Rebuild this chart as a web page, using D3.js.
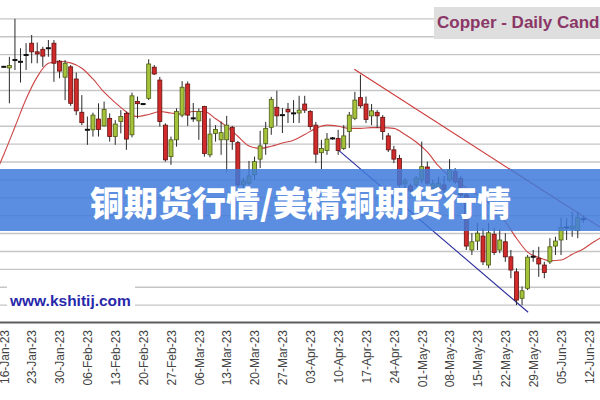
<!DOCTYPE html>
<html>
<head>
<meta charset="utf-8">
<script src="https://cdn.jsdelivr.net/npm/d3@7"></script>
<style>
  body { margin: 0; background: #fff; }
  svg { display: block; }
</style>
</head>
<body>
<svg id="chart" width="600" height="400"></svg>
<script>
// ---------------- data (one candle per weekday from 16-Jan-23) ----------------
var firstDay = new Date(2023, 0, 16);
var lastDay = new Date(2023, 5, 17);

var opens  = [4.216,4.213,4.235,4.230,4.249, 4.282,4.258,4.265,4.268,4.282, 4.232,4.187,4.216,4.182,4.089,
              4.040,4.040,4.070,4.051,4.072, 4.021,4.063,4.086,4.026,4.119, 4.112,4.128,4.215,4.179,4.053,
              3.965,4.012,4.081,4.168,4.072, 4.065,4.105,3.970,4.030,4.012, 4.012,4.047,4.004,3.886,3.891,
              3.914,3.958,4.002,4.047,4.103, 4.081,4.097,4.086,4.087,4.112, 4.091,4.053,3.976,3.982,4.016,
              4.016,3.988,4.035,4.072,4.130, 4.112,4.079,4.089,4.075,4.023, 3.984,3.960,3.889,3.883,3.886,
              3.900,3.936,3.877,3.875,3.886, 3.900,3.923,3.904,3.858,3.704, 3.729,3.743,3.662,3.748,3.704,
              3.727,3.685,3.643,3.569,3.597, 3.685,3.681,3.662,3.671,3.715, 3.732,3.767,3.763,3.758,3.790];
var highs  = [4.218,4.244,4.350,4.268,4.282, 4.305,4.284,4.272,4.291,4.291, 4.235,4.235,4.221,4.200,4.137,
              4.077,4.088,4.114,4.119,4.086, 4.067,4.095,4.091,4.144,4.133, 4.115,4.237,4.221,4.188,4.058,
              4.021,4.100,4.176,4.175,4.115, 4.100,4.107,4.072,4.053,4.063, 4.079,4.051,4.009,3.905,3.953,
              3.965,4.037,4.062,4.132,4.149, 4.101,4.115,4.123,4.135,4.135, 4.095,4.062,4.012,4.031,4.020,
              4.040,4.053,4.090,4.146,4.194, 4.133,4.112,4.095,4.081,4.031, 3.995,3.970,3.905,3.889,3.911,
              4.007,3.951,3.900,3.909,3.911, 3.958,3.933,3.911,3.872,3.751, 3.780,3.765,3.779,3.766,3.762,
              3.751,3.704,3.653,3.602,3.690, 3.704,3.713,3.671,3.737,3.741, 3.795,3.793,3.811,3.811,3.799];
var lows   = [4.214,4.114,4.207,4.172,4.207, 4.226,4.226,4.216,4.244,4.174, 4.184,4.123,4.107,4.081,4.053,
              3.998,4.021,4.021,4.049,4.007, 3.998,4.030,3.984,4.019,4.072, 4.109,4.123,4.193,4.049,3.951,
              3.942,3.993,4.075,4.051,4.062, 4.012,3.965,3.963,4.007,3.970, 3.923,3.984,3.880,3.877,3.886,
              3.900,3.933,3.970,4.026,4.051, 4.031,4.059,4.059,4.059,4.087, 4.040,3.947,3.930,3.970,4.012,
              3.970,3.984,3.989,4.067,4.101, 4.059,4.053,4.045,4.012,3.978, 3.947,3.880,3.872,3.858,3.880,
              3.891,3.886,3.872,3.866,3.858, 3.894,3.889,3.852,3.704,3.690, 3.704,3.662,3.653,3.690,3.695,
              3.671,3.625,3.550,3.550,3.592, 3.671,3.629,3.625,3.665,3.690, 3.690,3.732,3.741,3.737,3.780];
var closes = [4.216,4.220,4.235,4.230,4.249, 4.258,4.252,4.246,4.268,4.226, 4.204,4.226,4.114,4.093,4.060,
              4.040,4.081,4.041,4.097,4.021, 4.056,4.077,4.014,4.135,4.113, 4.112,4.224,4.196,4.063,3.956,
              4.012,4.091,4.159,4.081,4.072, 4.091,3.974,4.028,4.041,4.032, 4.053,4.007,3.886,3.897,3.911,
              3.951,3.995,4.044,4.125,4.079, 4.081,4.090,4.086,4.095,4.095, 4.049,3.972,3.988,4.014,4.016,
              3.982,4.023,4.081,4.123,4.107, 4.069,4.093,4.079,4.035,3.984, 3.958,3.886,3.897,3.869,3.905,
              3.937,3.891,3.889,3.891,3.872, 3.928,3.895,3.858,3.715,3.727, 3.751,3.671,3.752,3.697,3.732,
              3.685,3.648,3.564,3.590,3.684, 3.685,3.665,3.641,3.713,3.729, 3.767,3.767,3.771,3.795,3.790];

// moving average, read every second day (day -1 is 13-Jan)
var maDays = [-1].concat(d3.range(0, 110, 2));
var maValues = [3.935,3.971,4.048,4.126,4.188,4.226,4.231,4.227,4.212,4.182,4.145,4.116,4.090,4.077,4.083,
                4.091,4.087,4.084,4.091,4.091,4.071,4.049,4.022,3.995,3.988,3.994,4.003,4.011,4.027,4.044,
                4.053,4.050,4.044,4.044,4.046,4.046,4.044,4.027,4.006,3.978,3.939,3.910,3.889,3.868,3.849,
                3.821,3.783,3.737,3.698,3.683,3.674,3.676,3.692,3.707,3.728,3.746];

// trend lines [day, price]
var redTrend = [[62.9, 4.209], [107, 3.768]];
var blueTrend = [[60, 3.984], [94.1, 3.530]];

var gridPrices = d3.range(3.55, 4.36, 0.05);
var bannerText = "铜期货行情/美精铜期货行情";
var titleText = "Copper - Daily Candle";
var siteText = "www.kshitij.com";

// ---------------- scales ----------------
var days = d3.timeDay.range(firstDay, lastDay).filter(function(d) { return d.getDay() > 0 && d.getDay() < 6; });
var x = d3.scaleLinear().domain([0, 105]).range([3.8, 588.9]);
var y = d3.scaleLinear().domain([3.50, 4.40]).range([323, 1]);
var fmt = d3.timeFormat("%d-%b-%y");

var svg = d3.select("#chart");

// grid
svg.append("g").selectAll("line")
    .data(gridPrices)
    .enter()
    .append("line")
    .attr("x1", 0).attr("x2", 600)
    .attr("y1", function(d) { return y(d); })
    .attr("y2", function(d) { return y(d); })
    .attr("stroke", "#c6c6c6")
    .attr("stroke-width", 1.4);

// white patch behind the site name
svg.append("rect")
    .attr("x", 7).attr("y", 283).attr("width", 128).attr("height", 28)
    .attr("fill", "#fff");

// moving average
var maLine = d3.line()
    .x(function(d) { return x(d[0]); })
    .y(function(d) { return y(d[1]); })
    .curve(d3.curveMonotoneX);

svg.append("path")
    .datum(maDays.map(function(d, i) { return [d, maValues[i]]; }))
    .attr("d", maLine)
    .attr("fill", "none")
    .attr("stroke", "#cc4444")
    .attr("stroke-width", 1.1);

// trend lines
var straight = d3.line()
    .x(function(d) { return x(d[0]); })
    .y(function(d) { return y(d[1]); });

svg.append("path").datum(redTrend).attr("d", straight)
    .attr("fill", "none").attr("stroke", "#cc3838").attr("stroke-width", 1.1);
svg.append("path").datum(blueTrend).attr("d", straight)
    .attr("fill", "none").attr("stroke", "#2b2b9c").attr("stroke-width", 1.1);

// candles
var candles = opens.map(function(o, i) {
    return { i: i, o: o, h: highs[i], l: lows[i], c: closes[i] };
});

var cg = svg.append("g").selectAll("g.candle")
    .data(candles)
    .enter()
    .append("g")
    .attr("class", "candle");

cg.append("line")
    .attr("x1", function(d) { return x(d.i); })
    .attr("x2", function(d) { return x(d.i); })
    .attr("y1", function(d) { return y(d.h); })
    .attr("y2", function(d) { return y(d.l); })
    .attr("stroke", "#2a2a2a")
    .attr("stroke-width", 1);

cg.filter(function(d) { return Math.abs(d.o - d.c) >= 0.002; })
    .append("rect")
    .attr("x", function(d) { return x(d.i) - 2; })
    .attr("width", 4)
    .attr("y", function(d) { return y(Math.max(d.o, d.c)); })
    .attr("height", function(d) { return Math.abs(y(d.o) - y(d.c)); })
    .attr("fill", function(d) { return d.c > d.o ? "#a4c23a" : "#d02a2a"; })
    .attr("stroke", function(d) { return d.c > d.o ? "#4d5c14" : "#641010"; })
    .attr("stroke-width", 0.8);

cg.filter(function(d) { return Math.abs(d.o - d.c) < 0.002; })
    .append("line")
    .attr("x1", function(d) { return x(d.i) - 2.5; })
    .attr("x2", function(d) { return x(d.i) + 2.5; })
    .attr("y1", function(d) { return y(d.c); })
    .attr("y2", function(d) { return y(d.c); })
    .attr("stroke", "#111")
    .attr("stroke-width", 2);

// site name
svg.append("text")
    .attr("x", 10).attr("y", 306)
    .attr("font-family", "'Liberation Sans', Arial, sans-serif")
    .attr("font-weight", "bold")
    .attr("font-size", 15.5)
    .attr("fill", "#2828aa")
    .text(siteText);

// bottom axis
svg.append("line")
    .attr("x1", 0).attr("x2", 600)
    .attr("y1", 322.5).attr("y2", 322.5)
    .attr("stroke", "#5c5c5c")
    .attr("stroke-width", 2);

var mondays = d3.range(0, days.length, 5).filter(function(i) { return i <= 105; });
svg.append("g").selectAll("text")
    .data(mondays)
    .enter()
    .append("text")
    .attr("transform", function(i) { return "translate(" + (x(i) + 0.6) + ",330) rotate(-90)"; })
    .attr("dy", "0.35em")
    .attr("text-anchor", "end")
    .attr("font-family", "'Liberation Sans', Arial, sans-serif")
    .attr("font-size", 12)
    .attr("fill", "#444")
    .text(function(i) { return fmt(days[i]); });

// title box
svg.append("rect")
    .attr("x", 434).attr("y", 7).attr("width", 170).attr("height", 32)
    .attr("fill", "#dedede");
svg.append("text")
    .attr("x", 437).attr("y", 28)
    .attr("font-family", "'Liberation Sans', Arial, sans-serif")
    .attr("font-weight", "bold")
    .attr("font-size", 17)
    .attr("fill", "#8a3666")
    .text(titleText);

// banner
svg.append("rect")
    .attr("x", 0).attr("y", 169).attr("width", 600).attr("height", 62)
    .attr("fill", "rgb(62,122,219)")
    .attr("fill-opacity", 0.85);
svg.append("text")
    .attr("x", 300.5).attr("y", 201)
    .attr("text-anchor", "middle")
    .attr("dominant-baseline", "central")
    .attr("font-family", "'Noto Sans CJK SC', sans-serif")
    .attr("font-weight", 900)
    .attr("font-size", 34)
    .attr("fill", "#fff")
    .text(bannerText);
</script>
</body>
</html>
